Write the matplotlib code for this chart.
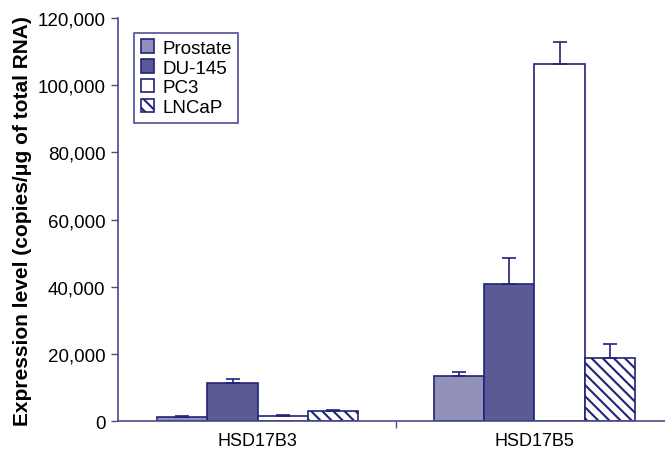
import matplotlib
matplotlib.use("Agg")
import matplotlib.pyplot as plt
import numpy as np
from matplotlib.ticker import FuncFormatter

plt.rcParams['font.family'] = ['Liberation Sans', 'DejaVu Sans']
plt.rcParams['hatch.linewidth'] = 1.5

genes = ["HSD17B3", "HSD17B5"]
series = ["Prostate", "DU-145", "PC3", "LNCaP"]
values = {
    "Prostate": [1200, 13400],
    "DU-145": [11300, 40700],
    "PC3": [1500, 106200],
    "LNCaP": [3000, 18800],
}
errors = {
    "Prostate": [200, 1100],
    "DU-145": [1200, 7800],
    "PC3": [200, 6800],
    "LNCaP": [300, 4200],
}
yticks = [0, 20000, 40000, 60000, 80000, 100000, 120000]

navy = "#23237a"
faces = {"Prostate": "#9291b9", "DU-145": "#5a5a94", "PC3": "white", "LNCaP": "white"}
hatches = {"Prostate": None, "DU-145": None, "PC3": None, "LNCaP": "\\\\\\"}

fig = plt.figure(figsize=(6.65, 4.52), dpi=100)
ax = fig.add_axes([0.1774, 0.066, 0.83, 0.892])

x = np.arange(len(genes))
w = 0.182
for i, s in enumerate(series):
    pos = x + (i - 1.5) * w
    ax.bar(pos, values[s], width=w, color=faces[s], edgecolor=navy, linewidth=1.2,
           hatch=hatches[s], label=s, zorder=2)
    ax.errorbar(pos, values[s], yerr=[np.zeros(len(genes)), errors[s]], fmt='none',
                ecolor=navy, elinewidth=1.2, capsize=5, capthick=1.2, zorder=3)

ax.set_xlim(-0.505, 1.49)
ax.set_ylim(0, 120000)
ax.set_yticks(yticks)
ax.yaxis.set_major_formatter(FuncFormatter(lambda v, p: f"{int(v):,}"))
ax.set_xticks(x)
ax.set_xticklabels(genes)
ax.set_xticks([0.5], minor=True)
ax.tick_params(axis='x', which='major', length=0, pad=8, labelsize=13)
ax.tick_params(axis='x', which='minor', length=5, color="#4a4a8a", width=1)
ax.tick_params(axis='y', length=5, color="#4a4a8a", width=1, labelsize=13.5, pad=4)

for sp in ["top", "right"]:
    ax.spines[sp].set_visible(False)
for sp in ["left", "bottom"]:
    ax.spines[sp].set_color("#4a4a8a")
    ax.spines[sp].set_linewidth(1.2)

ax.set_ylabel("Expression level (copies/μg of total RNA)", fontsize=15,
              fontweight='bold', labelpad=4)

leg = ax.legend(loc='upper left', bbox_to_anchor=(0.029, 0.963), borderaxespad=0,
                fontsize=13.5, frameon=True, fancybox=False, handlelength=0.7,
                handleheight=0.7, handletextpad=0.45, borderpad=0.35, labelspacing=0.15)
leg.get_frame().set_edgecolor(navy)
leg.get_frame().set_linewidth(1.2)

fig.savefig("out.png", dpi=100)
